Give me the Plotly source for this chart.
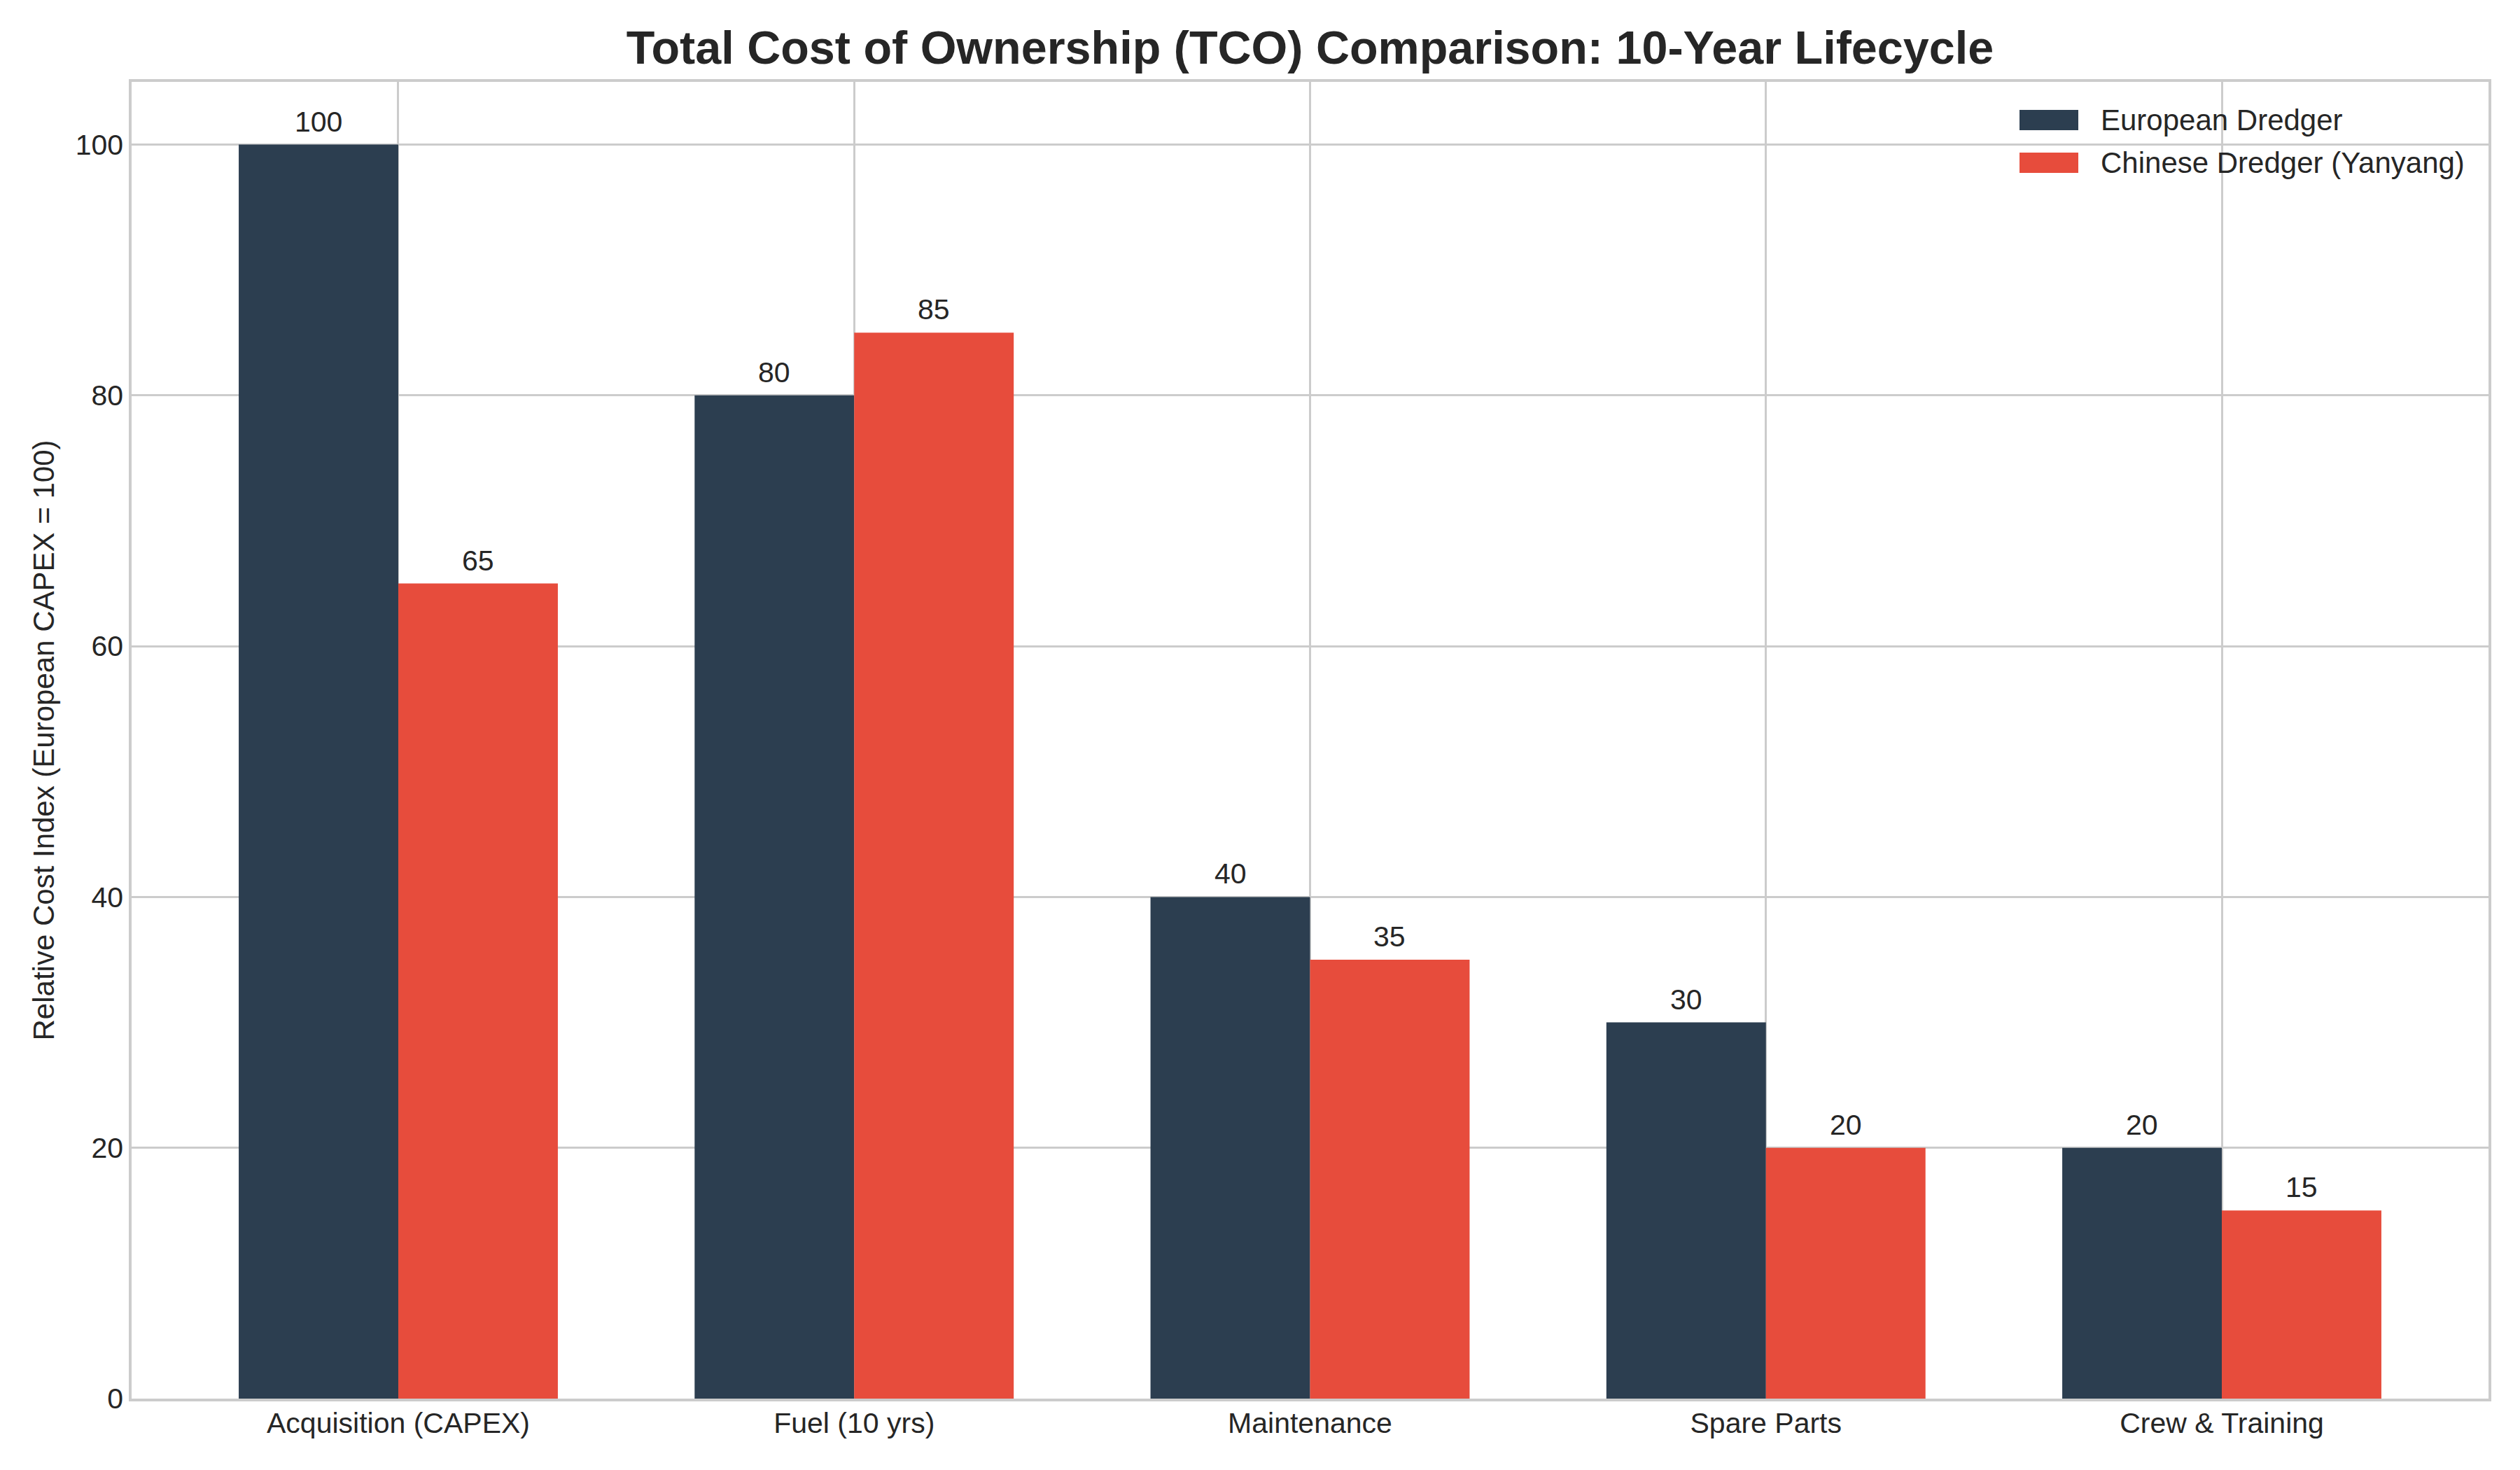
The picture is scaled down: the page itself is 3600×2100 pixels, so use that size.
import plotly.graph_objects as go

categories = ["Acquisition (CAPEX)", "Fuel (10 yrs)", "Maintenance", "Spare Parts", "Crew & Training"]
european = [100, 80, 40, 30, 20]
chinese = [65, 85, 35, 20, 15]
series_names = ["European Dredger", "Chinese Dredger (Yanyang)"]
y_ticks = [0, 20, 40, 60, 80, 100]

COL_EU = "#2c3e50"
COL_CN = "#e74c3c"
TXT = "#262626"
GRID = "#cccccc"
FONT = "Liberation Sans, Arial, sans-serif"

W, H = 3600, 2100
ML, MR, MT, MB = 188, 45, 117, 102
PW, PH = W - ML - MR, H - MT - MB
BAR_W = 0.35


def px_x(px):
    return (px - ML) / PW


def px_y(py):
    return (H - MB - py) / PH


fig = go.Figure()
for name, vals, col in ((series_names[0], european, COL_EU), (series_names[1], chinese, COL_CN)):
    fig.add_trace(go.Bar(x=categories, y=vals, name=name, marker_color=col,
                         marker_line_width=0, showlegend=False))

annotations = []
for i, (e, c) in enumerate(zip(european, chinese)):
    for val, off in ((e, -BAR_W / 2), (c, BAR_W / 2)):
        annotations.append(dict(x=i + off, y=val, xref="x", yref="y", text=str(val),
                                showarrow=False, yanchor="bottom", yshift=8,
                                font=dict(family=FONT, size=41, color=TXT)))

# custom legend (wide swatches like the reference)
shapes = []
legend_rows = [(series_names[0], COL_EU, 157, 186), (series_names[1], COL_CN, 218, 247)]
for name, col, y0, y1 in legend_rows:
    shapes.append(dict(type="rect", xref="paper", yref="paper",
                       x0=px_x(2885), x1=px_x(2969), y0=px_y(y1), y1=px_y(y0),
                       fillcolor=col, line_width=0, layer="above"))
    annotations.append(dict(x=px_x(2999), y=px_y((y0 + y1) / 2), xref="paper", yref="paper",
                            text=name, showarrow=False, xanchor="left", yanchor="middle",
                            font=dict(family=FONT, size=42, color=TXT)))

fig.update_layout(
    width=W, height=H,
    margin=dict(l=ML, r=MR, t=MT, b=MB),
    paper_bgcolor="white", plot_bgcolor="white",
    barmode="group", bargap=1 - 2 * BAR_W, bargroupgap=0,
    font=dict(family=FONT, size=41, color=TXT),
    title=dict(text="<b>Total Cost of Ownership (TCO) Comparison: 10-Year Lifecycle</b>",
               x=0.5, xref="paper", xanchor="center", y=1 - 68 / H, yref="container", yanchor="middle",
               font=dict(family=FONT, size=66.5, color=TXT)),
    annotations=annotations,
    shapes=shapes,
    showlegend=False,
)
fig.update_xaxes(range=[-0.585, 4.585], showgrid=True, gridcolor=GRID, gridwidth=2.5,
                 showline=True, linecolor=GRID, linewidth=3.5, mirror=True,
                 ticks="", ticklabelstandoff=-4,
                 tickfont=dict(family=FONT, size=41, color=TXT), zeroline=False)
fig.update_yaxes(range=[0, 105], tickvals=y_ticks, showgrid=True, gridcolor=GRID, gridwidth=2.5,
                 showline=True, linecolor=GRID, linewidth=3.5, mirror=True,
                 ticks="", tickfont=dict(family=FONT, size=41, color=TXT), zeroline=False,
                 title=dict(text="Relative Cost Index (European CAPEX = 100)", standoff=18,
                            font=dict(family=FONT, size=42, color=TXT)))

fig.write_html("out.html")
